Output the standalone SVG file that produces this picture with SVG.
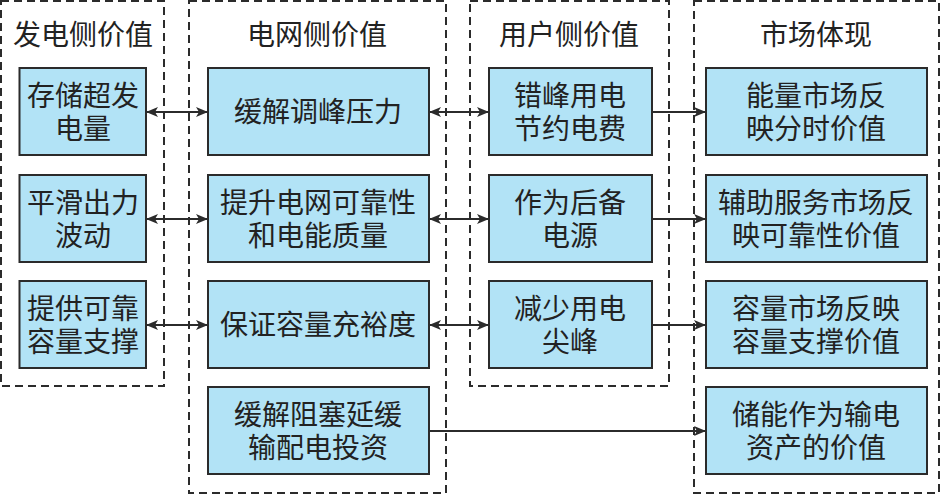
<svg xmlns="http://www.w3.org/2000/svg" width="941" height="496" viewBox="0 0 941 496">
<defs>
<style>
.grp{fill:none;stroke:#2b2b2b;stroke-width:2;stroke-dasharray:8 5}
.nd{fill:#b2e3f6;stroke:#2b2b2b;stroke-width:2}
text{font-family:"Liberation Serif","Noto Sans CJK SC",serif;font-size:28px;fill:#222;text-anchor:middle;dominant-baseline:central}
.ln{stroke:#2b2b2b;stroke-width:2;fill:none}
</style>
<marker id="ah" viewBox="0 0 12 10" refX="11" refY="5" markerWidth="12" markerHeight="10" markerUnits="userSpaceOnUse" orient="auto-start-reverse">
<path d="M0,0 L12,5 L0,10 L3,5 Z" fill="#2b2b2b"/>
</marker>
</defs>
<rect width="941" height="496" fill="#fff"/>
<g id="groups">
<rect class="grp" x="1" y="1" width="163" height="385"/>
<rect class="grp" x="189" y="1" width="257" height="492"/>
<rect class="grp" x="470" y="1" width="199" height="385"/>
<rect class="grp" x="694" y="1" width="245" height="492"/>
<text x="83" y="35">发电侧价值</text>
<text x="317" y="35">电网侧价值</text>
<text x="569" y="35">用户侧价值</text>
<text x="816" y="35">市场体现</text>
</g>
<g id="connectors">
<line class="ln" x1="147" y1="112" x2="207" y2="112" marker-start="url(#ah)" marker-end="url(#ah)"/>
<line class="ln" x1="430" y1="112" x2="488" y2="112" marker-start="url(#ah)" marker-end="url(#ah)"/>
<line class="ln" x1="652" y1="112" x2="705" y2="112" marker-end="url(#ah)"/>
<line class="ln" x1="147" y1="219" x2="207" y2="219" marker-start="url(#ah)" marker-end="url(#ah)"/>
<line class="ln" x1="430" y1="219" x2="488" y2="219" marker-start="url(#ah)" marker-end="url(#ah)"/>
<line class="ln" x1="652" y1="219" x2="705" y2="219" marker-end="url(#ah)"/>
<line class="ln" x1="147" y1="325" x2="207" y2="325" marker-start="url(#ah)" marker-end="url(#ah)"/>
<line class="ln" x1="430" y1="325" x2="488" y2="325" marker-start="url(#ah)" marker-end="url(#ah)"/>
<line class="ln" x1="652" y1="325" x2="705" y2="325" marker-end="url(#ah)"/>
<line class="ln" x1="429" y1="431" x2="705" y2="431" marker-end="url(#ah)"/>
</g>
<g id="n_g1"><rect class="nd" x="19.5" y="68" width="126.5" height="87"/><text x="83" y="96"><tspan x="83">存储超发</tspan><tspan x="83" dy="33">电量</tspan></text></g>
<g id="n_g2"><rect class="nd" x="19.5" y="175" width="126.5" height="87"/><text x="83" y="203"><tspan x="83">平滑出力</tspan><tspan x="83" dy="33">波动</tspan></text></g>
<g id="n_g3"><rect class="nd" x="19.5" y="281" width="126.5" height="87"/><text x="83" y="309"><tspan x="83">提供可靠</tspan><tspan x="83" dy="33">容量支撑</tspan></text></g>
<g id="n_n1"><rect class="nd" x="208" y="68" width="221" height="87"/><text x="318" y="112">缓解调峰压力</text></g>
<g id="n_n2"><rect class="nd" x="208" y="175" width="221" height="87"/><text x="318" y="203"><tspan x="318">提升电网可靠性</tspan><tspan x="318" dy="33">和电能质量</tspan></text></g>
<g id="n_n3"><rect class="nd" x="208" y="281" width="221" height="87"/><text x="318" y="325">保证容量充裕度</text></g>
<g id="n_n4"><rect class="nd" x="208" y="387" width="221" height="87"/><text x="318" y="415"><tspan x="318">缓解阻塞延缓</tspan><tspan x="318" dy="33">输配电投资</tspan></text></g>
<g id="n_u1"><rect class="nd" x="489" y="68" width="163" height="87"/><text x="570" y="96"><tspan x="570">错峰用电</tspan><tspan x="570" dy="33">节约电费</tspan></text></g>
<g id="n_u2"><rect class="nd" x="489" y="175" width="163" height="87"/><text x="570" y="203"><tspan x="570">作为后备</tspan><tspan x="570" dy="33">电源</tspan></text></g>
<g id="n_u3"><rect class="nd" x="489" y="281" width="163" height="87"/><text x="570" y="309"><tspan x="570">减少用电</tspan><tspan x="570" dy="33">尖峰</tspan></text></g>
<g id="n_m1"><rect class="nd" x="706" y="68" width="221" height="87"/><text x="816" y="96"><tspan x="816">能量市场反</tspan><tspan x="816" dy="33">映分时价值</tspan></text></g>
<g id="n_m2"><rect class="nd" x="706" y="175" width="221" height="87"/><text x="816" y="203"><tspan x="816">辅助服务市场反</tspan><tspan x="816" dy="33">映可靠性价值</tspan></text></g>
<g id="n_m3"><rect class="nd" x="706" y="281" width="221" height="87"/><text x="816" y="309"><tspan x="816">容量市场反映</tspan><tspan x="816" dy="33">容量支撑价值</tspan></text></g>
<g id="n_m4"><rect class="nd" x="706" y="387" width="221" height="87"/><text x="816" y="415"><tspan x="816">储能作为输电</tspan><tspan x="816" dy="33">资产的价值</tspan></text></g>
</svg>
